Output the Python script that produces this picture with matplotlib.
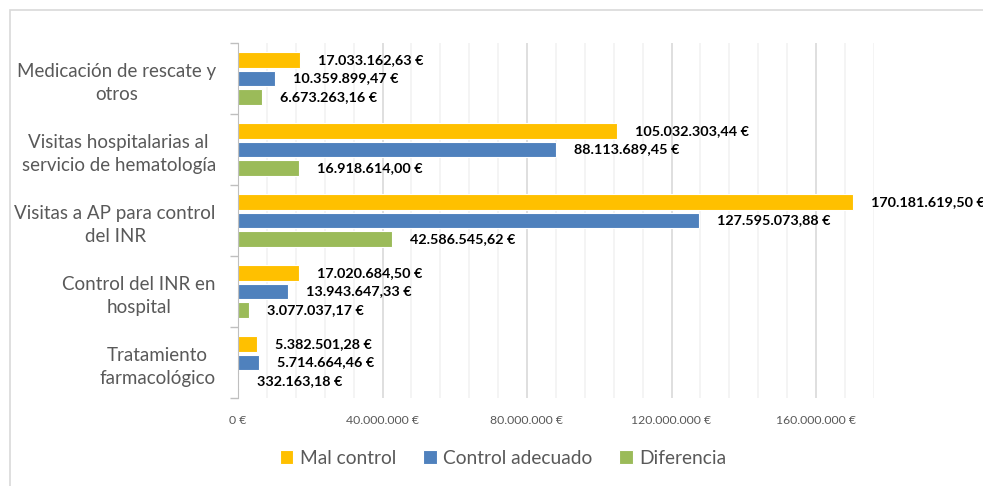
import matplotlib
matplotlib.use("Agg")
import matplotlib.pyplot as plt
from matplotlib.patches import Rectangle
from matplotlib.ticker import FuncFormatter, MultipleLocator
import numpy as np

plt.rcParams["font.family"] = ["Lato", "DejaVu Sans"]

# ---- data -------------------------------------------------------------------
CATEGORIES = [
    "Medicación de rescate y\notros",
    "Visitas hospitalarias al\nservicio de hematología",
    "Visitas a AP para control\ndel INR",
    "Control del INR en\nhospital",
    "Tratamiento\nfarmacológico",
]
SERIES = ["Mal control", "Control adecuado", "Diferencia"]
MAL_CONTROL = [17033162.63, 105032303.44, 170181619.50, 17020684.50, 5382501.28]
CONTROL_ADECUADO = [10359899.47, 88113689.45, 127595073.88, 13943647.33, 5714664.46]
DIFERENCIA = [6673263.16, 16918614.00, 42586545.62, 3077037.17, 332163.18]
X_TICKS = [0, 40e6, 80e6, 120e6, 160e6]

COLORS = ["#FFC000", "#4F81BD", "#9BBB59"]
GREY_TXT = "#595959"


def euro(v, decimals=2):
    s = f"{v:,.{decimals}f}".replace(",", "X").replace(".", ",").replace("X", ".")
    return s + " €"


# ---- figure -----------------------------------------------------------------
W, H = 983, 486
fig = plt.figure(figsize=(W / 100, H / 100), dpi=100)
fig.patch.set_facecolor("white")

# chart-area border (runs off the right / bottom edge)
fig.patches.append(Rectangle((10 / W, -0.1), 1.2, 1 - 10 / H + 0.1,
                             transform=fig.transFigure, fill=False,
                             ec="#D9D9D9", lw=1.2, zorder=0))

x0, x1, ytop, ybot = 238, 873.8, 43, 398
ax = fig.add_axes([x0 / W, 1 - ybot / H, (x1 - x0) / W, (ybot - ytop) / H])

y = np.arange(len(CATEGORIES))
step, h = 0.26, 0.225
for k, (vals, col) in enumerate(zip([MAL_CONTROL, CONTROL_ADECUADO, DIFERENCIA], COLORS)):
    pos = y + (k - 1) * step
    ax.barh(pos, vals, height=h, color=col, ec="white", lw=0.8, zorder=3,
            label=SERIES[k])
    for p, v in zip(pos, vals):
        ax.annotate(euro(v), (v, p), xytext=(18, 0), textcoords="offset pixels",
                    ha="left", va="center", fontsize=10.4, fontweight="bold",
                    color="black", annotation_clip=False, zorder=4)

ax.set_xlim(0, 176e6)
ax.set_ylim(len(CATEGORIES) - 0.5, -0.5)
ax.set_xticks(X_TICKS)
ax.xaxis.set_minor_locator(MultipleLocator(8e6))
ax.xaxis.set_major_formatter(FuncFormatter(lambda v, _: euro(v, 0)))
ax.grid(axis="x", which="major", color="#D9D9D9", lw=1.2, zorder=0)
ax.grid(axis="x", which="minor", color="#F2F2F2", lw=1.2, zorder=0)
ax.tick_params(axis="x", which="both", length=0, labelsize=8.8,
               labelcolor=GREY_TXT, pad=12)

ax.set_yticks(y)
ax.set_yticklabels(CATEGORIES, fontsize=13.5, color=GREY_TXT,
                   multialignment="center", linespacing=1.4)
ax.tick_params(axis="y", which="major", length=0, pad=16)
ax.set_yticks(np.arange(-0.5, len(CATEGORIES)), minor=True)
ax.tick_params(axis="y", which="minor", length=6, color="#BFBFBF", width=1)

for s in ["top", "right", "bottom"]:
    ax.spines[s].set_visible(False)
ax.spines["left"].set_color("#BFBFBF")
ax.spines["left"].set_zorder(5)

handles, labels = ax.get_legend_handles_labels()
fig.legend(handles, labels, loc="center", bbox_to_anchor=(0.512, 1 - 458 / H),
           ncol=3, frameon=False, fontsize=13.8, labelcolor=GREY_TXT,
           handlelength=0.7, handleheight=0.7, handletextpad=0.35,
           columnspacing=1.4)

fig.savefig("out.png", dpi=100, facecolor="white")
